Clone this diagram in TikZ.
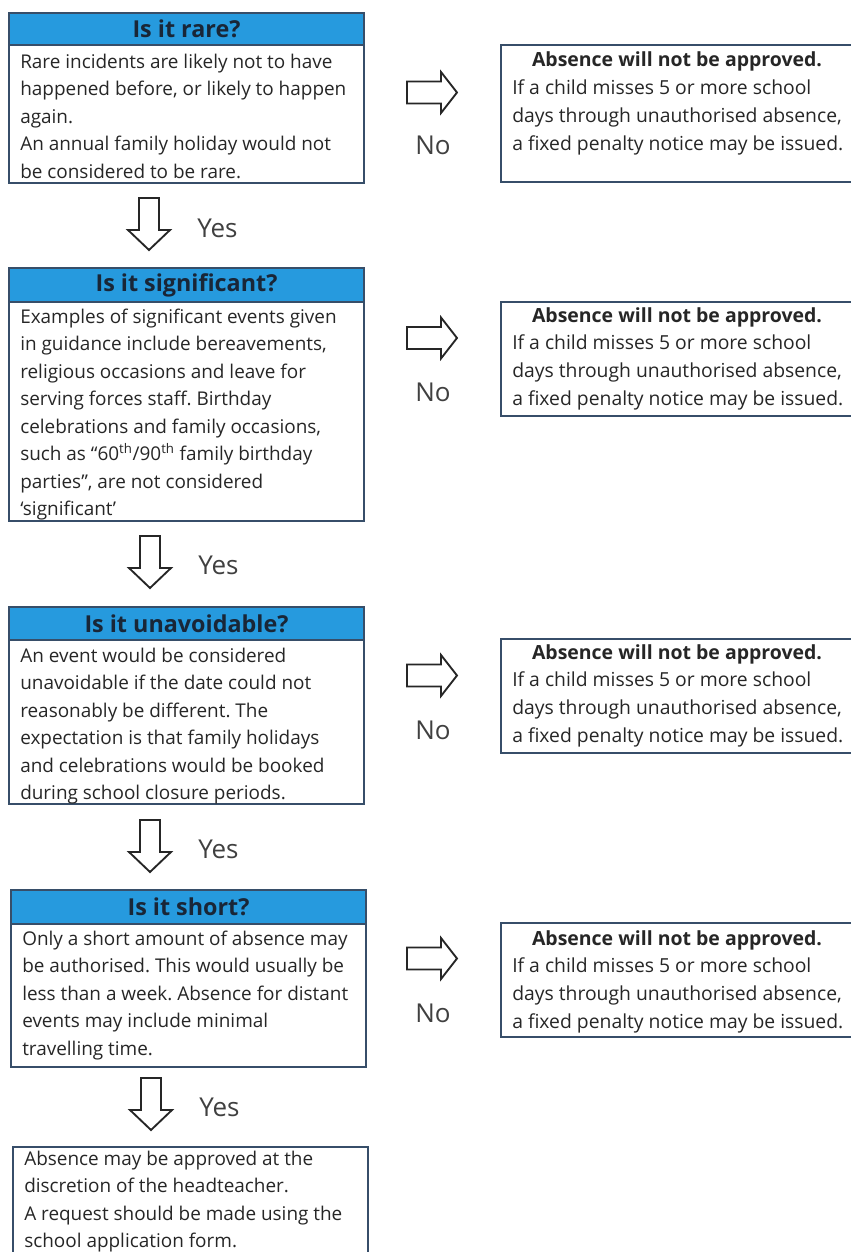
\documentclass[tikz,border=0pt]{standalone}
\usepackage{fontspec}
\setmainfont{Open Sans}
\usetikzlibrary{fit}
\definecolor{hdrblue}{RGB}{38,154,222}
\definecolor{boxline}{RGB}{55,78,105}
\definecolor{txt}{RGB}{38,38,38}
\definecolor{hdrtxt}{RGB}{25,38,55}
\frenchspacing
\begin{document}
\begin{tikzpicture}[x=0.75pt,y=-0.75pt,
  frame/.style={draw=boxline,line width=1.2pt,inner sep=0pt},
  hdr/.style={fill=hdrblue,draw=boxline,line width=1pt,inner sep=0pt},
  hdrlabel/.style={font=\bfseries\fontsize{17.5}{20}\selectfont,text=hdrtxt,inner sep=0pt},
  bodytext/.style={anchor=north west,align=left,inner sep=0pt,text=txt,font=\fontsize{14.2}{20.6}\selectfont},
  rbodytext/.style={bodytext,font=\fontsize{14.5}{20.8}\selectfont},
  titletext/.style={anchor=base,inner sep=0pt,text=txt,font=\bfseries\fontsize{14.6}{20.6}\selectfont},
  yn/.style={inner sep=0pt,text=black!75,font=\fontsize{19.5}{22}\selectfont},
  blockarrow/.style={draw=black!85,line width=1.4pt,fill=white,line join=miter},
  downarrow/.pic={\draw[blockarrow] (-10,0) -- (10,0) -- (10,32) -- (21,32) -- (0,52) -- (-21,32) -- (-10,32) -- cycle;},
  rightarrow/.pic={\draw[blockarrow] (0,-11) -- (34,-11) -- (34,-20.5) -- (50,0) -- (34,20.5) -- (34,11) -- (0,11) -- cycle;}
]
\useasboundingbox (0,0) rectangle (850,1252);

% ---------- left column ----------
% box 1
\node[hdr,fit={(9,13)(364,45)}] (h1) {};
\node[frame,fit={(9,13)(364,183)}] (b1) {};
\node[hdrlabel] (h1t) at (h1.center) {Is it rare?};
\node[bodytext] (b1t) at (20,49) {\strut Rare incidents are likely not to have\\happened before, or likely to happen\\again.\\An annual family holiday would not\\be considered to be rare.};

% box 2
\node[hdr,fit={(9,268)(364,302)}] (h2) {};
\node[frame,fit={(9,268)(364,521)}] (b2) {};
\node[hdrlabel] (h2t) at (h2.center) {Is it significant?};
\node[bodytext] (b2t) at (20,304) {\strut Examples of significant events given\\in guidance include bereavements,\\religious occasions and leave for\\serving forces staff. Birthday\\celebrations and family occasions,\\such as “60\textsuperscript{th}/90\textsuperscript{th} family birthday\\parties”, are not considered\\‘significant’};

% box 3
\node[hdr,fit={(9,607)(364,640)}] (h3) {};
\node[frame,fit={(9,607)(364,804)}] (b3) {};
\node[hdrlabel] (h3t) at (h3.center) {Is it unavoidable?};
\node[bodytext] (b3t) at (20,643) {\strut An event would be considered\\unavoidable if the date could not\\reasonably be different. The\\expectation is that family holidays\\and celebrations would be booked\\during school closure periods.};

% box 4
\node[hdr,fit={(11,890)(366,924)}] (h4) {};
\node[frame,fit={(11,890)(366,1067)}] (b4) {};
\node[hdrlabel] (h4t) at (h4.center) {Is it short?};
\node[bodytext] (b4t) at (22,926) {\strut Only a short amount of absence may\\be authorised. This would usually be\\less than a week. Absence for distant\\events may include minimal\\travelling time.};

% box 5
\node[frame,fit={(13,1147)(368,1275)}] (b5) {};
\node[bodytext] (b5t) at (24,1146) {\strut Absence may be approved at the\\discretion of the headteacher.\\A request should be made using the\\school application form.};

% down arrows and Yes labels
\pic (d1) at (149,198) {downarrow};
\node[yn,anchor=west] (y1) at (197,228) {Yes};
\pic (d2) at (150,536) {downarrow};
\node[yn,anchor=west] (y2) at (198,565) {Yes};
\pic (d3) at (150,820) {downarrow};
\node[yn,anchor=west] (y3) at (198,849) {Yes};
\pic (d4) at (151,1078) {downarrow};
\node[yn,anchor=west] (y4) at (199,1107) {Yes};

% ---------- right column ----------
\node[frame,fit={(501,45)(856,182)}] (r1) {};
\node[titletext] (r1h) at (677,67) {Absence will not be approved.};
\node[rbodytext] (r1t) at (512,75) {\strut If a child misses 5 or more school\\days through unauthorised absence,\\a fixed penalty notice may be issued.};

\node[frame,fit={(501,302)(856,416)}] (r2) {};
\node[titletext] (r2h) at (677,322) {Absence will not be approved.};
\node[rbodytext] (r2t) at (512,330) {\strut If a child misses 5 or more school\\days through unauthorised absence,\\a fixed penalty notice may be issued.};

\node[frame,fit={(501,639)(856,753)}] (r3) {};
\node[titletext] (r3h) at (677,659) {Absence will not be approved.};
\node[rbodytext] (r3t) at (512,667) {\strut If a child misses 5 or more school\\days through unauthorised absence,\\a fixed penalty notice may be issued.};

\node[frame,fit={(501,923)(856,1037)}] (r4) {};
\node[titletext] (r4h) at (677,945) {Absence will not be approved.};
\node[rbodytext] (r4t) at (512,953) {\strut If a child misses 5 or more school\\days through unauthorised absence,\\a fixed penalty notice may be issued.};

% right arrows and No labels
\pic (a1) at (407,92.5) {rightarrow};
\node[yn] (n1) at (433,145) {No};
\pic (a2) at (407,338) {rightarrow};
\node[yn] (n2) at (433,392) {No};
\pic (a3) at (407,675.5) {rightarrow};
\node[yn] (n3) at (433,730) {No};
\pic (a4) at (407,958.5) {rightarrow};
\node[yn] (n4) at (433,1013) {No};
\end{tikzpicture}
\end{document}
